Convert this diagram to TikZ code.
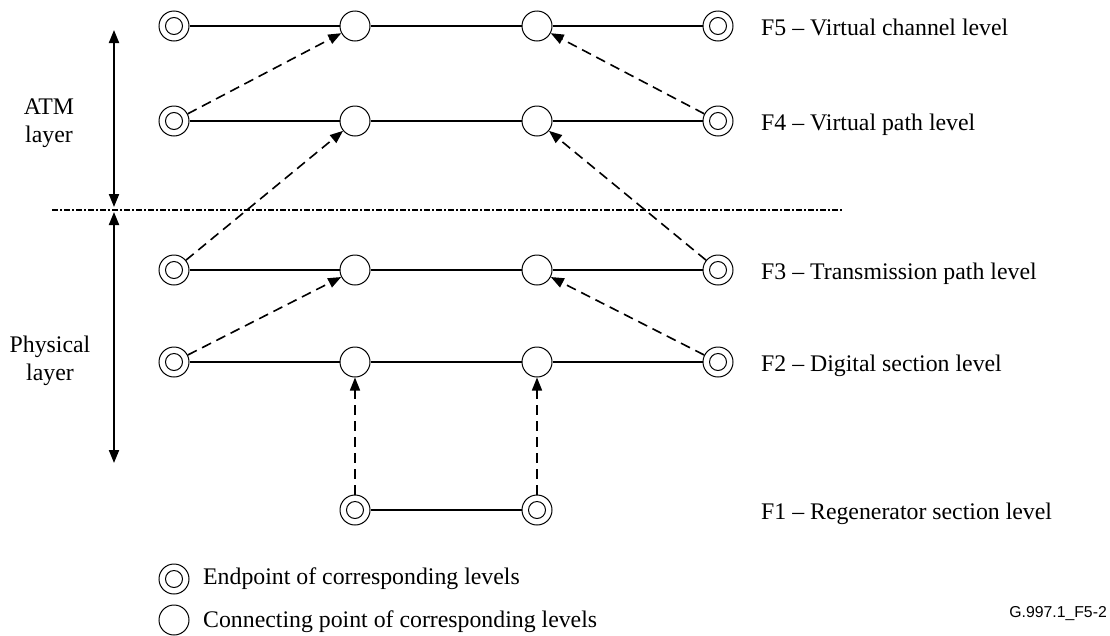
\documentclass[tikz,border=0pt]{standalone}
\usepackage{fontspec}
\setmainfont{Liberation Serif}
\newfontfamily\figsans{Liberation Sans}
\usetikzlibrary{arrows.meta}
\begin{document}
\begin{tikzpicture}[x=1pt,y=-1pt,
  conn/.style={circle,draw,line width=1pt,minimum size=30pt,inner sep=0pt,fill=white},
  endp/.style={circle,draw,line width=1pt,minimum size=30pt,inner sep=0pt,fill=white,
    path picture={\draw[line width=1pt] (path picture bounding box.center) circle[radius=8.5pt];}},
  level/.style={line width=2pt},
  dasharrow/.style={line width=1.6pt,dash pattern=on 10pt off 6pt,-{Triangle[length=13pt,width=10pt]}},
  layerarrow/.style={line width=2pt,{Triangle[length=13pt,width=10pt]}-{Triangle[length=13pt,width=10pt]}},
  lbl/.style={font=\fontsize{23.8}{28}\selectfont,anchor=base west,inner sep=0pt},
  side/.style={font=\fontsize{23.8}{28}\selectfont,align=center,inner sep=0pt}]
\useasboundingbox (0,0) rectangle (1110,635);

% nodes
\foreach \r/\y in {5/26,4/121,3/270,2/362}{
  \node[endp] (e\r l) at (174,\y) {};
  \node[conn] (c\r a) at (355,\y) {};
  \node[conn] (c\r b) at (537,\y) {};
  \node[endp] (e\r r) at (718,\y) {};
}
\node[endp] (e1a) at (355,510) {};
\node[endp] (e1b) at (537,510) {};

% level lines
\foreach \r in {5,4,3,2}{
  \draw[level] (e\r l) -- (c\r a) -- (c\r b) -- (e\r r);
}
\draw[level] (e1a) -- (e1b);

% dashed arrows
\draw[dasharrow] (e4l) -- (c5a);
\draw[dasharrow] (e4r) -- (c5b);
\draw[dasharrow] (e3l) -- (c4a);
\draw[dasharrow] (e3r) -- (c4b);
\draw[dasharrow] (e2l) -- (c3a);
\draw[dasharrow] (e2r) -- (c3b);
\draw[dasharrow] (e1a) -- (c2a);
\draw[dasharrow] (e1b) -- (c2b);

% layer boundary
\coordinate (bl) at (52,210);
\coordinate (br) at (843,210);
\draw[line width=1.6pt,dash pattern=on 6pt off 2pt on 2pt off 2pt] (bl) -- (br);

% layer arrows
\coordinate (atmtop) at (114,30);
\coordinate (atmbot) at (114,207);
\coordinate (phytop) at (114,212);
\coordinate (phybot) at (114,463);
\draw[layerarrow] (atmtop) -- (atmbot);
\draw[layerarrow] (phytop) -- (phybot);

\node[side] (atm) at (49,123.5) {ATM\\layer};
\node[side] (phy) at (50,361) {Physical\\layer};

% level labels
\node[lbl] (l5) at (761,35) {F5 -- Virtual channel level};
\node[lbl] (l4) at (761,130) {F4 -- Virtual path level};
\node[lbl] (l3) at (761,279) {F3 -- Transmission path level};
\node[lbl] (l2) at (761,371) {F2 -- Digital section level};
\node[lbl] (l1) at (761,519) {F1 -- Regenerator section level};

% legend
\node[endp] (legE) at (174,579) {};
\node[conn] (legC) at (174,620) {};
\node[lbl] (legEt) at (203,584) {Endpoint of corresponding levels};
\node[lbl] (legCt) at (203,627) {Connecting point of corresponding levels};

\node[font=\figsans\fontsize{15.8}{18}\selectfont,anchor=base east,inner sep=0pt] (fig) at (1107,617) {G.997.1\_F5-2};
\end{tikzpicture}
\end{document}
